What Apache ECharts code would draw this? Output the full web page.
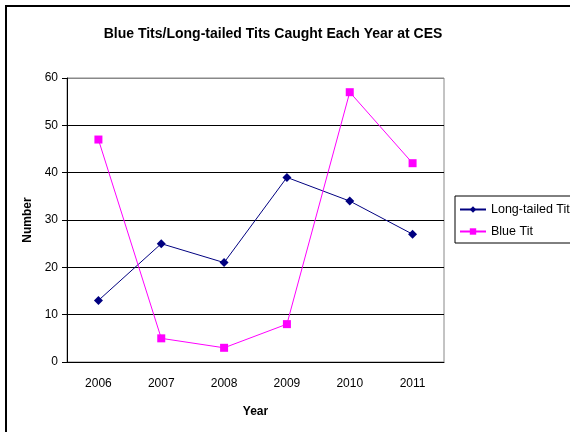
<!DOCTYPE html>
<html>
<head>
<meta charset="utf-8">
<script src="https://cdn.jsdelivr.net/npm/echarts@6/dist/echarts.min.js"></script>
<style>
  html, body { margin: 0; padding: 0; background: #fff; }
  #chart { width: 570px; height: 432px; }
</style>
</head>
<body>
<div id="chart"></div>
<script>
var years = ['2006', '2007', '2008', '2009', '2010', '2011']
var longTailed = [13, 25, 21, 39, 34, 27]
var blueTit = [47, 5, 3, 8, 57, 42]

var chart = echarts.init(document.getElementById('chart'))
chart.setOption({
  animation: false,
  textStyle: { fontFamily: 'Liberation Sans, Arial, sans-serif' },
  title: {
    text: 'Blue Tits/Long-tailed Tits Caught Each Year at CES',
    left: 268,
    textAlign: 'center',
    top: 22,
    textStyle: { fontSize: 14, fontWeight: 'bold', color: '#000' }
  },
  graphic: [
    {
      type: 'rect',
      shape: { x: 6, y: 6, width: 700, height: 600 },
      style: { fill: 'none', stroke: '#000', lineWidth: 2 },
      silent: true
    },
    {
      // plot area frame
      type: 'rect',
      shape: { x: 67, y: 78, width: 377, height: 284 },
      style: { fill: 'none', stroke: '#888', lineWidth: 1 },
      silent: true,
      z: -1
    }
  ],
  legend: {
    orient: 'vertical',
    left: 455,
    top: 196,
    padding: [7, 60, 5, 4],
    itemWidth: 26,
    itemHeight: 8,
    itemGap: 9,
    borderColor: '#000',
    borderWidth: 1,
    borderRadius: 0,
    textStyle: { fontSize: 12.5, color: '#000' },
    data: ['Long-tailed Tit', 'Blue Tit']
  },
  grid: {
    left: 67,
    top: 78,
    width: 377,
    height: 284
  },
  xAxis: {
    type: 'category',
    data: years,
    boundaryGap: true,
    name: 'Year',
    nameLocation: 'middle',
    nameGap: 44,
    nameTextStyle: { fontSize: 12, fontWeight: 'bold', color: '#000' },
    axisLine: { lineStyle: { color: '#000', width: 1 } },
    axisTick: { length: 5, lineStyle: { color: '#000' } },
    axisLabel: { fontSize: 12, color: '#000', margin: 16 }
  },
  yAxis: {
    type: 'value',
    min: 0,
    max: 60,
    interval: 10,
    name: 'Number',
    nameLocation: 'middle',
    nameGap: 32,
    nameTextStyle: { fontSize: 12, fontWeight: 'bold', color: '#000' },
    axisLine: { show: true, lineStyle: { color: '#000', width: 1 } },
    axisTick: { show: true, length: 5, lineStyle: { color: '#000' } },
    axisLabel: { fontSize: 12, color: '#000', margin: 9 },
    splitLine: { lineStyle: { color: ['#000', '#000', '#000', '#000', '#000', '#000', '#888'], width: 1 } }
  },
  series: [
    {
      name: 'Long-tailed Tit',
      type: 'line',
      data: longTailed,
      symbol: 'diamond',
      symbolSize: 9,
      color: '#000080',
      lineStyle: { width: 1, color: '#000080' },
      itemStyle: { color: '#000080' }
    },
    {
      name: 'Blue Tit',
      type: 'line',
      data: blueTit,
      symbol: 'rect',
      symbolSize: 8,
      color: '#FF00FF',
      lineStyle: { width: 1, color: '#FF00FF' },
      itemStyle: { color: '#FF00FF' }
    }
  ]
})
</script>
</body>
</html>
